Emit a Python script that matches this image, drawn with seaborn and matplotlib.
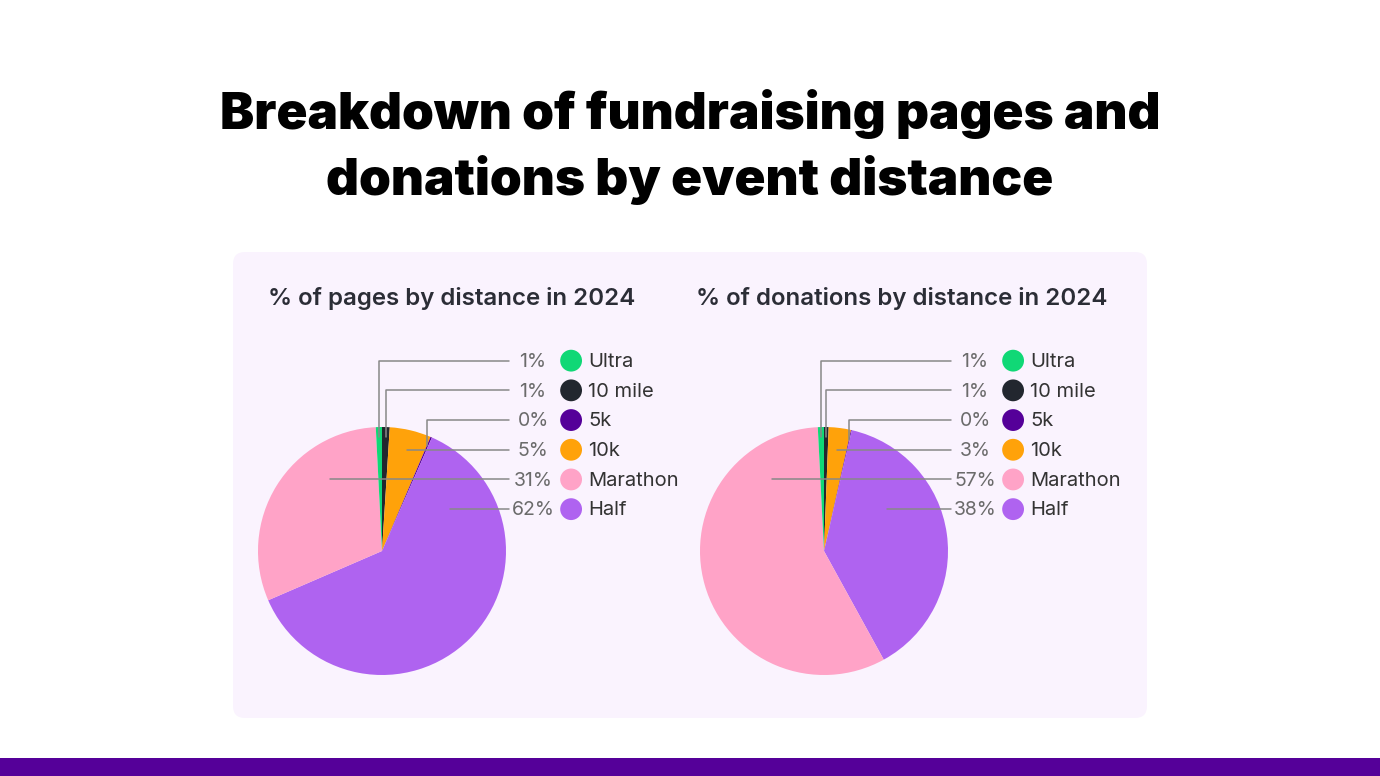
import numpy as np
import matplotlib
matplotlib.use("Agg")
import matplotlib.pyplot as plt
import seaborn as sns
from matplotlib.patches import FancyBboxPatch, Rectangle, Circle

# ------------------------------------------------------------------------------
# DATA (legend order)
# ------------------------------------------------------------------------------
distances = ["Ultra", "10 mile", "5k", "10k", "Marathon", "Half"]
pages_pct = [0.8, 1.0, 0.2, 5.4, 30.7, 61.9]
donations_pct = [0.8, 0.6, 0.1, 2.9, 57.2, 38.4]

# order the slices are drawn in, clockwise from 12 o'clock
pie_order = ["10 mile", "10k", "5k", "Half", "Marathon", "Ultra"]

colors = {
    "Ultra": "#10D876",
    "10 mile": "#22272F",
    "5k": "#550099",
    "10k": "#FFA20A",
    "Marathon": "#FFA3C7",
    "Half": "#AF63F0",
}

chart_titles = ["% of pages by distance in 2024", "% of donations by distance in 2024"]
main_title = "Breakdown of fundraising pages and\ndonations by event distance"

# ------------------------------------------------------------------------------
# SETUP
# ------------------------------------------------------------------------------
sns.set_theme(style="white")
plt.rcParams["font.family"] = ["Inter", "DejaVu Sans"]

W, H = 1380, 776
fig = plt.figure(figsize=(W / 100, H / 100), dpi=100)
fig.patch.set_facecolor("white")


def fx(x):
    return x / W


def fy(y):
    return 1 - y / H


# background layer in pixel units: panel + bottom band
bg = fig.add_axes([0, 0, 1, 1], zorder=-5)
bg.set_xlim(0, W)
bg.set_ylim(H, 0)
bg.axis("off")
bg.add_patch(FancyBboxPatch((233, 252), 914, 466, boxstyle="round,pad=0,rounding_size=12",
                            facecolor="#FAF3FE", edgecolor="none"))
bg.add_patch(Rectangle((0, 758), W, 18, facecolor="#550099", edgecolor="none"))

fig.text(0.5, fy(147), main_title, ha="center", va="center", fontsize=36.9,
         fontweight="black", color="black", linespacing=1.42)


def wedge_anchor(a0, a1, h):
    """point where the leader line meets the slice (angles clockwise from top)"""
    if h < 0.95:
        xs = np.linspace(-1, 1, 4001)
        ang = np.degrees(np.arctan2(xs, h)) % 360
        inside = (ang >= a0) & (ang <= a1) & (xs ** 2 + h ** 2 <= 1)
        if inside.sum() > 40:
            sel = xs[inside]
            return (sel.min() + sel.max()) / 2, h, False
    mid = np.radians((a0 + a1) / 2)
    return 0.92 * np.sin(mid), 0.92 * np.cos(mid), True


def draw_pie(ax, values, title, title_x):
    vals = dict(zip(distances, values))
    sizes = [vals[d] for d in pie_order]
    ax.pie(sizes, colors=[colors[d] for d in pie_order], startangle=90,
           counterclock=False, radius=1, center=(0, 0),
           wedgeprops=dict(linewidth=0))
    # 124 px per data unit
    ax.set_xlim(-132 / 124, 318 / 124)
    ax.set_ylim(-139 / 124, 211 / 124)
    ax.set_aspect("auto")
    ax.axis("off")

    cum = np.cumsum([0] + sizes) / sum(sizes) * 360
    angles = {d: (cum[i], cum[i + 1]) for i, d in enumerate(pie_order)}

    row0, step = 1.525, 0.2395
    for i, d in enumerate(distances):
        h = row0 - i * step
        ax.text(1.218, h, f"{round(vals[d])}%", ha="center", va="center",
                fontsize=14, color="#6B6B6B")
        ax.add_patch(Circle((1.525, h + 0.01), 0.088, facecolor=colors[d],
                            edgecolor="none"))
        ax.text(1.665, h, d, ha="left", va="center", fontsize=14.5, color="#333333")
        lx, ly, elbow = wedge_anchor(*angles[d], h + 0.01)
        if elbow:
            ax.plot([1.025, lx, lx], [h + 0.01, h + 0.01, ly], color="#888888",
                    lw=1.1, zorder=5)
        else:
            ax.plot([1.025, lx], [h + 0.01, h + 0.01], color="#888888", lw=1.1, zorder=5)

    fig.text(fx(title_x), fy(299), title, ha="left", va="center", fontsize=17.3,
             fontweight="semibold", color="#2B2D36")


for k, (values, title, cx, tx) in enumerate(zip([pages_pct, donations_pct], chart_titles,
                                                [382, 824], [268, 696])):
    ax = fig.add_axes([fx(cx - 132), fy(551 + 139), 450 / W, 350 / H])
    ax.patch.set_alpha(0)
    draw_pie(ax, values, title, tx)

fig.savefig("out.png", dpi=100, facecolor="white")
